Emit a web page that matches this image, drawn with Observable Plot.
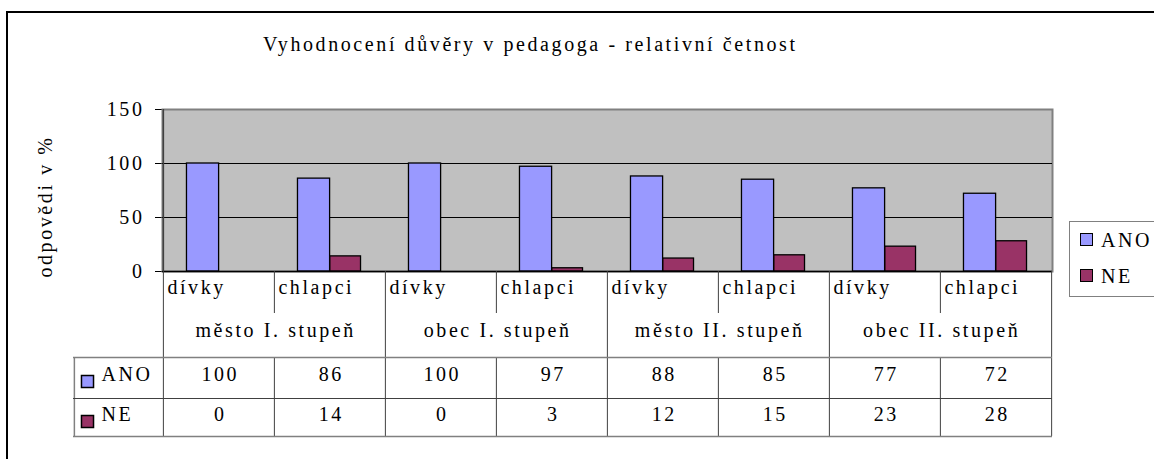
<!DOCTYPE html>
<html>
<head>
<meta charset="utf-8">
<script src="https://cdn.jsdelivr.net/npm/d3@7"></script>
<script src="https://cdn.jsdelivr.net/npm/@observablehq/plot@0.6"></script>
<style>
  html, body { margin: 0; padding: 0; background: #fff; }
  #wrap { position: relative; width: 1154px; height: 459px; overflow: hidden; color: #000; }
  #border { position: absolute; left: 6px; top: 11px; width: 1160px; height: 470px;
            border: 2px solid #000; box-sizing: border-box; }
  #chart { position: absolute; left: 0; top: 0; }
  #title { position: absolute; left: 263px; white-space: nowrap; }
  #legend { position: absolute; left: 1069px; top: 221px; width: 100px; height: 76px;
            border: 1.5px solid #808080; box-sizing: border-box; background: #fff; }
  .lg { position: absolute; left: 0; white-space: nowrap; }
  .sw { position: absolute; width: 11px; height: 11px; border: 1.5px solid #000; }
</style>
</head>
<body>
<div id="wrap">
  <div id="border"></div>
  <div id="chart"></div>
  <div id="title"></div>
  <div id="legend"></div>
</div>
<script>
// ---- data ----
const titleText = "Vyhodnocení důvěry v pedagoga - relativní četnost";
const yLabel = "odpovědi v %";
const groups = ["město I. stupeň", "obec I. stupeň", "město II. stupeň", "obec II. stupeň"];
const genders = ["dívky", "chlapci"];
const seriesNames = ["ANO", "NE"];
const ano = [100, 86, 100, 97, 88, 85, 77, 72];
const ne = [0, 14, 0, 3, 12, 15, 23, 28];
const yTicks = [0, 50, 100, 150];
const colors = ["#9999FF", "#993366"];

// ---- font choice ----
function hasFont(f) {
  const c = document.createElement("canvas").getContext("2d");
  const s = "Vyhodnocení důvěry abcdefghijklmnopqrstuvwxyz 0123456789 ABCDEFGHIJ";
  let diff = false;
  for (const base of ["monospace", "sans-serif", "serif"]) {
    c.font = "40px " + base;
    const a = c.measureText(s).width;
    c.font = `40px "${f}", ${base}`;
    const b = c.measureText(s).width;
    if (Math.abs(a - b) > 0.5) diff = true;
  }
  return diff;
}
const candidates = ["Liberation Serif", "Times New Roman", "Tinos", "Nimbus Roman", "FreeSerif", "DejaVu Serif", "Noto Serif"];
const chosen = candidates.find(hasFont);
const FONT = chosen ? `"${chosen}", serif` : "serif";
function textW(s, size) {
  const c = document.createElement("canvas").getContext("2d");
  c.font = `${size}px ${FONT}`;
  return c.measureText(s).width;
}
const fs = 20;
// the reference text is set with extra tracking; fit the title width
let ls = (532 - textW(titleText, fs)) / (titleText.length - 1);
ls = Math.max(0, Math.min(3, ls));

// ---- derived tables ----
const cats = [];
groups.forEach(g => genders.forEach(s => cats.push({key: g + " | " + s, group: g, gender: s})));
const keys = cats.map(c => c.key);
const rows = [];
cats.forEach((c, i) => {
  rows.push({...c, series: seriesNames[0], value: ano[i]});
  rows.push({...c, series: seriesNames[1], value: ne[i]});
});
const anoRows = rows.filter(r => r.series === seriesNames[0]);
const neRows = rows.filter(r => r.series === seriesNames[1]);
const firstOfGroup = cats.filter((c, i) => i % 2 === 0);
const secondOfGroup = cats.filter((c, i) => i % 2 === 1);

// ---- layout ----
const W = 1154, H = 459, ML = 162, MR = 102, MT = 109, MB = 188;
const bw = (W - ML - MR) / keys.length;
const fh = H - MT - MB;
const lineC = "#404040";
const greyC = "#808080";

const wrap = document.getElementById("wrap");
wrap.style.fontFamily = FONT;
wrap.style.letterSpacing = ls + "px";

const chart = Plot.plot({
  width: W, height: H,
  marginLeft: ML, marginRight: MR, marginTop: MT, marginBottom: MB,
  style: {background: "transparent", fontFamily: FONT, fontSize: fs + "px", letterSpacing: ls + "px", color: "#000", overflow: "visible"},
  x: {domain: keys, padding: 0, axis: null},
  y: {domain: [0, 150], ticks: yTicks, tickSize: 7, tickPadding: 11, label: null, line: false},
  marks: [
    Plot.frame({fill: "#C0C0C0", stroke: greyC, strokeWidth: 2}),
    Plot.ruleY(yTicks.filter(t => t > 0 && t < 150), {stroke: "#000", strokeWidth: 1}),
    Plot.barY(anoRows, {x: "key", y: "value", fill: colors[0], stroke: "#000", strokeWidth: 1.3,
      insetLeft: bw * 0.211, insetRight: bw - bw * 0.502}),
    Plot.barY(neRows.filter(r => r.value > 0), {x: "key", y: "value", fill: colors[1], stroke: "#000", strokeWidth: 1.3,
      insetLeft: bw * 0.502, insetRight: bw - bw * 0.78}),
    Plot.ruleY([0], {stroke: "#000", strokeWidth: 1.3}),
    // y axis line
    Plot.ruleX([keys[0]], {dx: -bw / 2, stroke: lineC, strokeWidth: 1.5}),
    // y axis title
    Plot.text([yLabel], {frameAnchor: "left", textAnchor: "middle", dx: -117, dy: 16, rotate: -90, fontSize: fs}),
    // ---- data table ----
    Plot.ruleX(secondOfGroup, {x: "key", dx: -bw / 2, insetTop: fh, insetBottom: -42, stroke: lineC}),
    Plot.ruleX(firstOfGroup, {x: "key", dx: -bw / 2, insetTop: fh, insetBottom: -165, stroke: lineC}),
    Plot.ruleX([keys[keys.length - 1]], {dx: bw / 2, insetTop: fh, insetBottom: -165, stroke: lineC}),
    Plot.ruleX(secondOfGroup, {x: "key", dx: -bw / 2, insetTop: fh + 86, insetBottom: -165, stroke: lineC}),
    Plot.ruleX([keys[0]], {dx: -bw / 2 - 89, insetTop: fh + 86, insetBottom: -165, stroke: greyC, strokeWidth: 1.5}),
    Plot.ruleY([0], {dy: 86, insetLeft: -89, stroke: greyC, strokeWidth: 1.5}),
    Plot.ruleY([0], {dy: 127, insetLeft: -89, stroke: lineC}),
    Plot.ruleY([0], {dy: 165, insetLeft: -89, stroke: greyC, strokeWidth: 1.5}),
    Plot.text(cats, {x: "key", text: "gender", frameAnchor: "bottom", textAnchor: "start", dx: -bw / 2 + 4, dy: 22, fontSize: fs}),
    Plot.text(secondOfGroup, {x: "key", text: "group", frameAnchor: "bottom", textAnchor: "middle", dx: -bw / 2 + ls / 2, dy: 65, fontSize: fs}),
    Plot.text(anoRows, {x: "key", text: d => String(d.value), frameAnchor: "bottom", textAnchor: "middle", dx: ls / 2, dy: 109, fontSize: fs}),
    Plot.text(neRows, {x: "key", text: d => String(d.value), frameAnchor: "bottom", textAnchor: "middle", dx: ls / 2, dy: 149, fontSize: fs}),
    Plot.dot([seriesNames[0]], {frameAnchor: "bottom-left", dx: -75, dy: 110, symbol: "square", r: 6.8, fill: colors[0], stroke: "#000", strokeWidth: 1.5}),
    Plot.dot([seriesNames[1]], {frameAnchor: "bottom-left", dx: -75, dy: 150, symbol: "square", r: 6.8, fill: colors[1], stroke: "#000", strokeWidth: 1.5}),
    Plot.text([seriesNames[0]], {frameAnchor: "bottom-left", text: d => d, textAnchor: "start", dx: -61, dy: 109, fontSize: fs}),
    Plot.text([seriesNames[1]], {frameAnchor: "bottom-left", text: d => d, textAnchor: "start", dx: -61, dy: 149, fontSize: fs})
  ]
});
document.getElementById("chart").appendChild(chart);

// title: baseline at y ≈ 51
const title = document.getElementById("title");
title.textContent = titleText;
title.style.fontSize = fs + "px";
title.style.lineHeight = fs + "px";
title.style.top = (51 - 0.84 * fs) + "px";

// legend
const legend = document.getElementById("legend");
const lgBase = [24.5, 60.5];
seriesNames.forEach((s, i) => {
  const sw = document.createElement("div");
  sw.className = "sw";
  sw.style.left = "10px";
  sw.style.top = (lgBase[i] - 13.5) + "px";
  sw.style.background = colors[i];
  legend.appendChild(sw);
  const t = document.createElement("div");
  t.className = "lg";
  t.style.left = "31px";
  t.style.fontSize = fs + "px";
  t.style.lineHeight = fs + "px";
  t.style.top = (lgBase[i] - 0.84 * fs) + "px";
  t.textContent = s;
  legend.appendChild(t);
});
</script>
</body>
</html>
